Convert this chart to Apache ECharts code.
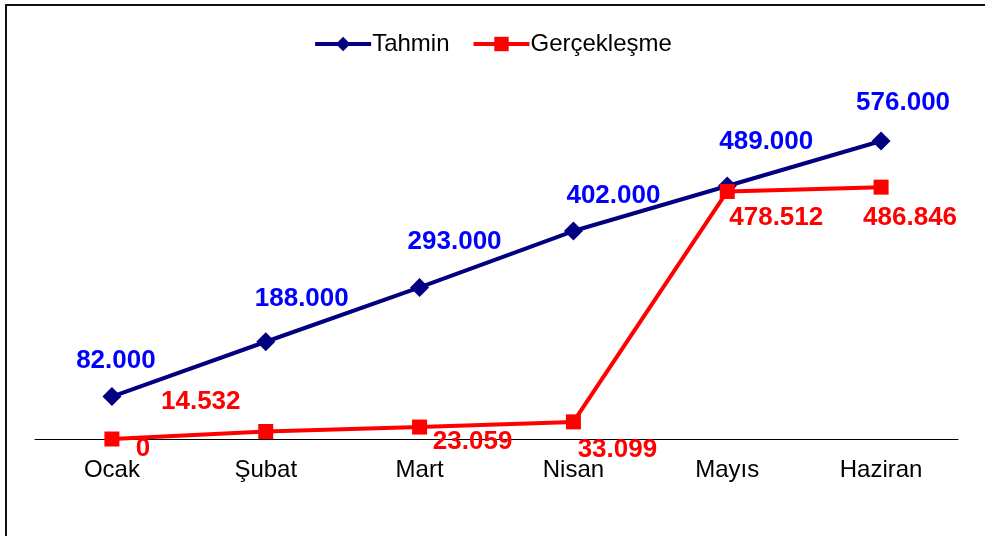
<html>
    <head>
        <meta charset="utf-8">
        <script src="https://cdn.jsdelivr.net/npm/echarts@6/dist/echarts.min.js"></script>
        <style>
            html, body { margin: 0; padding: 0; background: #fff; }
            #main { width: 985px; height: 536px; }
        </style>
    </head>
    <body>
        <div id="main"></div>

        <script>
            var months = ['Ocak', 'Şubat', 'Mart', 'Nisan', 'Mayıs', 'Haziran'];
            var tahmin = [82000, 188000, 293000, 402000, 489000, 576000];
            var gerceklesme = [0, 14532, 23059, 33099, 478512, 486846];

            // label offsets from each point (Excel put them by hand)
            var tahminOffsets = [[4, -36], [36, -43], [35, -46], [40, -35], [39, -44], [22, -38]];
            var gercekOffsets = [[31, 10], [-65, -30], [53, 15], [44, 28], [49, 26], [29, 31]];

            function fmt(v) {
                return String(v).replace(/\B(?=(\d{3})+(?!\d))/g, '.');
            }

            function withLabels(values, offsets) {
                return values.map(function (v, i) {
                    return {
                        value: v,
                        label: {offset: offsets[i]}
                    };
                });
            }

            var chart = echarts.init(document.getElementById('main'));

            chart.setOption({
                animation: false,
                textStyle: {fontFamily: 'Liberation Sans, Arial, sans-serif'},
                graphic: [{
                    type: 'rect',
                    shape: {x: 6, y: 5, width: 1000, height: 600},
                    style: {fill: null, stroke: '#111', lineWidth: 2},
                    silent: true,
                    z: -1
                }],
                legend: {
                    top: 27,
                    left: 'center',
                    itemWidth: 56,
                    itemHeight: 18,
                    itemGap: 22,
                    lineStyle: {width: 4},
                    textStyle: {color: '#000', fontSize: 24, padding: [0, 0, 0, -4]},
                    data: ['Tahmin', 'Gerçekleşme']
                },
                grid: {left: 35, right: 27, top: 128.6, bottom: 97},
                xAxis: {
                    type: 'category',
                    data: months,
                    boundaryGap: true,
                    axisLine: {lineStyle: {color: '#000', width: 1}},
                    axisTick: {show: false},
                    axisLabel: {color: '#000', fontSize: 24, margin: 19}
                },
                yAxis: {
                    type: 'value',
                    min: 0,
                    max: 600000,
                    show: false
                },
                series: [
                    {
                        name: 'Tahmin',
                        type: 'line',
                        data: withLabels(tahmin, tahminOffsets),
                        symbol: 'diamond',
                        symbolSize: 19,
                        lineStyle: {color: '#000080', width: 4},
                        itemStyle: {color: '#000080'},
                        label: {
                            show: true,
                            position: 'inside',
                            color: '#0000ff',
                            fontWeight: 'bold',
                            fontSize: 26,
                            formatter: function (p) { return fmt(p.value); }
                        },
                        z: 2
                    },
                    {
                        name: 'Gerçekleşme',
                        type: 'line',
                        data: withLabels(gerceklesme, gercekOffsets),
                        symbol: 'rect',
                        symbolSize: 15,
                        lineStyle: {color: '#ff0000', width: 4},
                        itemStyle: {color: '#ff0000'},
                        label: {
                            show: true,
                            position: 'inside',
                            color: '#ff0000',
                            fontWeight: 'bold',
                            fontSize: 26,
                            formatter: function (p) { return fmt(p.value); }
                        },
                        z: 3
                    }
                ]
            });
        </script>
    </body>
</html>
